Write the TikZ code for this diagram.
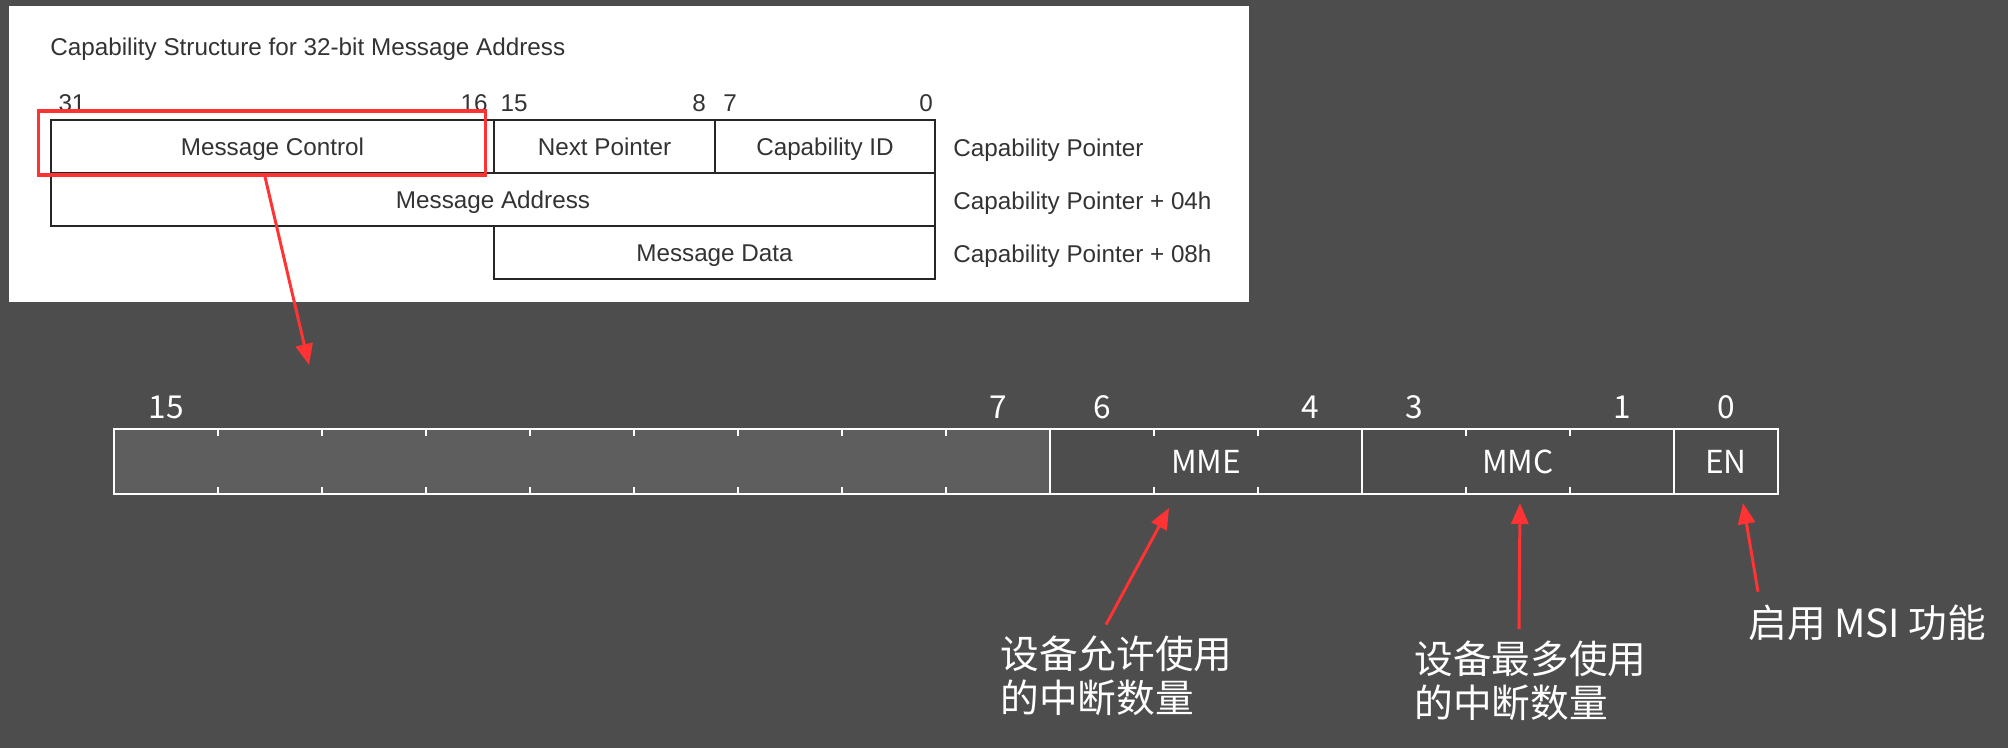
\documentclass[tikz,border=0pt]{standalone}
\usepackage{fontspec}
\setmainfont{Liberation Sans}
\newfontfamily\cjk{Noto Sans CJK SC}
\usetikzlibrary{calc,arrows.meta}
\definecolor{slatebg}{HTML}{4D4D4D}
\definecolor{resvgray}{HTML}{5E5E5E}
\definecolor{specink}{HTML}{333333}
\definecolor{markred}{HTML}{FF3333}
\newcommand{\regtick}[1]{%
  \draw[white, line width=1.1pt] (#1,6.38) -- (#1,6.24);
  \draw[white, line width=1.1pt] (#1,5.08) -- (#1,5.22);
}

\begin{document}
\begin{tikzpicture}[
    spectext/.style={text=specink, font=\fontsize{13.8}{16}\selectfont},
    speccell/.style={draw=black!85, line width=0.9pt, minimum height=1.06cm, inner sep=0pt,
      text height=10.8pt, text depth=0pt, spectext},
    regcell/.style={draw=white, line width=1.1pt, minimum height=1.30cm, inner sep=0pt, text=white, font=\cjk\fontsize{18}{20}\selectfont},
    bitnum/.style={text=white, font=\cjk\fontsize{18}{20}\selectfont},
    note/.style={text=white, font=\cjk\fontsize{22}{25}\selectfont, align=left, anchor=west, inner sep=0pt},
    redarrow/.style={markred, line width=1.7pt, -{Triangle[length=0.42cm, width=0.34cm]}}
  ]
  \fill[slatebg] (0,0) rectangle (40.16,14.96);
  \useasboundingbox (0,0) rectangle (40.16,14.96);

  % Spec excerpt
  \fill[white] (0.18,8.92) rectangle (24.98,14.84);
  \node[spectext, anchor=west, inner sep=0pt] (title) at (1.00,13.97) {Capability Structure for 32-bit Message Address};

  \node[spectext] (b31) at (1.44,12.90) {31};
  \node[spectext] (b16) at (9.48,12.90) {16};
  \node[spectext] (b15) at (10.28,12.90) {15};
  \node[spectext] (b8) at (13.98,12.90) {8};
  \node[spectext] (b7) at (14.60,12.90) {7};
  \node[spectext] (b0) at (18.52,12.90) {0};

  \node[speccell, minimum width=8.86cm] (ctrl) at (5.45,12.03) {Message Control};
  \node[speccell, minimum width=4.42cm] (nextptr) at (12.09,12.03) {Next Pointer};
  \node[speccell, minimum width=4.40cm] (capid) at (16.50,12.03) {Capability ID};
  \node[speccell, minimum width=17.68cm] (addr) at (9.86,10.97) {Message Address};
  \node[speccell, minimum width=8.82cm] (data) at (14.29,9.91) {Message Data};

  \node[spectext, anchor=west, inner sep=0pt] (off0) at (19.06,11.96) {Capability Pointer};
  \node[spectext, anchor=west, inner sep=0pt] (off4) at (19.06,10.90) {Capability Pointer + 04h};
  \node[spectext, anchor=west, inner sep=0pt] (off8) at (19.06,9.84) {Capability Pointer + 08h};

  \node[draw=markred, line width=2pt, minimum width=8.94cm, minimum height=1.28cm] (ctrlbox) at (5.24,12.10) {};

  % Message Control register
  \node[bitnum] (r15) at (3.32,6.82) {15};
  \node[bitnum] (r7) at (19.96,6.82) {7};
  \node[bitnum] (r6) at (22.04,6.82) {6};
  \node[bitnum] (r4) at (26.20,6.82) {4};
  \node[bitnum] (r3) at (28.28,6.82) {3};
  \node[bitnum] (r1) at (32.44,6.82) {1};
  \node[bitnum] (r0) at (34.52,6.82) {0};

  \node[regcell, fill=resvgray, minimum width=18.72cm] (resv) at (11.64,5.73) {};
  \node[regcell, minimum width=6.24cm] (mme) at (24.12,5.73) {MME};
  \node[regcell, minimum width=6.24cm] (mmc) at (30.36,5.73) {MMC};
  \node[regcell, minimum width=2.08cm] (en) at (34.52,5.73) {EN};

  \regtick{4.36}
  \regtick{6.44}
  \regtick{8.52}
  \regtick{10.60}
  \regtick{12.68}
  \regtick{14.76}
  \regtick{16.84}
  \regtick{18.92}
  \regtick{23.08}
  \regtick{25.16}
  \regtick{29.32}
  \regtick{31.40}

  % Notes
  \node[note] (mmenote) at (20.00,1.44) {设备允许使用\\的中断数量};
  \node[note] (mmcnote) at (28.28,1.35) {设备最多使用\\的中断数量};
  \node[note] (ennote) at (34.96,2.51) {启用 MSI 功能};

  \coordinate (ctrltip) at (6.18,7.66);
  \coordinate (mmetip) at (23.38,4.80);
  \coordinate (mmctip) at (30.40,4.90);
  \coordinate (entip) at (34.86,4.90);

  \draw[redarrow] ([xshift=0.06cm]ctrlbox.south) -- (ctrltip);
  \draw[redarrow] ([xshift=2.12cm,yshift=0.22cm]mmenote.north west) -- (mmetip);
  \draw[redarrow] ([xshift=2.10cm,yshift=0.22cm]mmcnote.north west) -- (mmctip);
  \draw[redarrow] ([xshift=0.20cm,yshift=0.25cm]ennote.north west) -- (entip);
\end{tikzpicture}
\end{document}
